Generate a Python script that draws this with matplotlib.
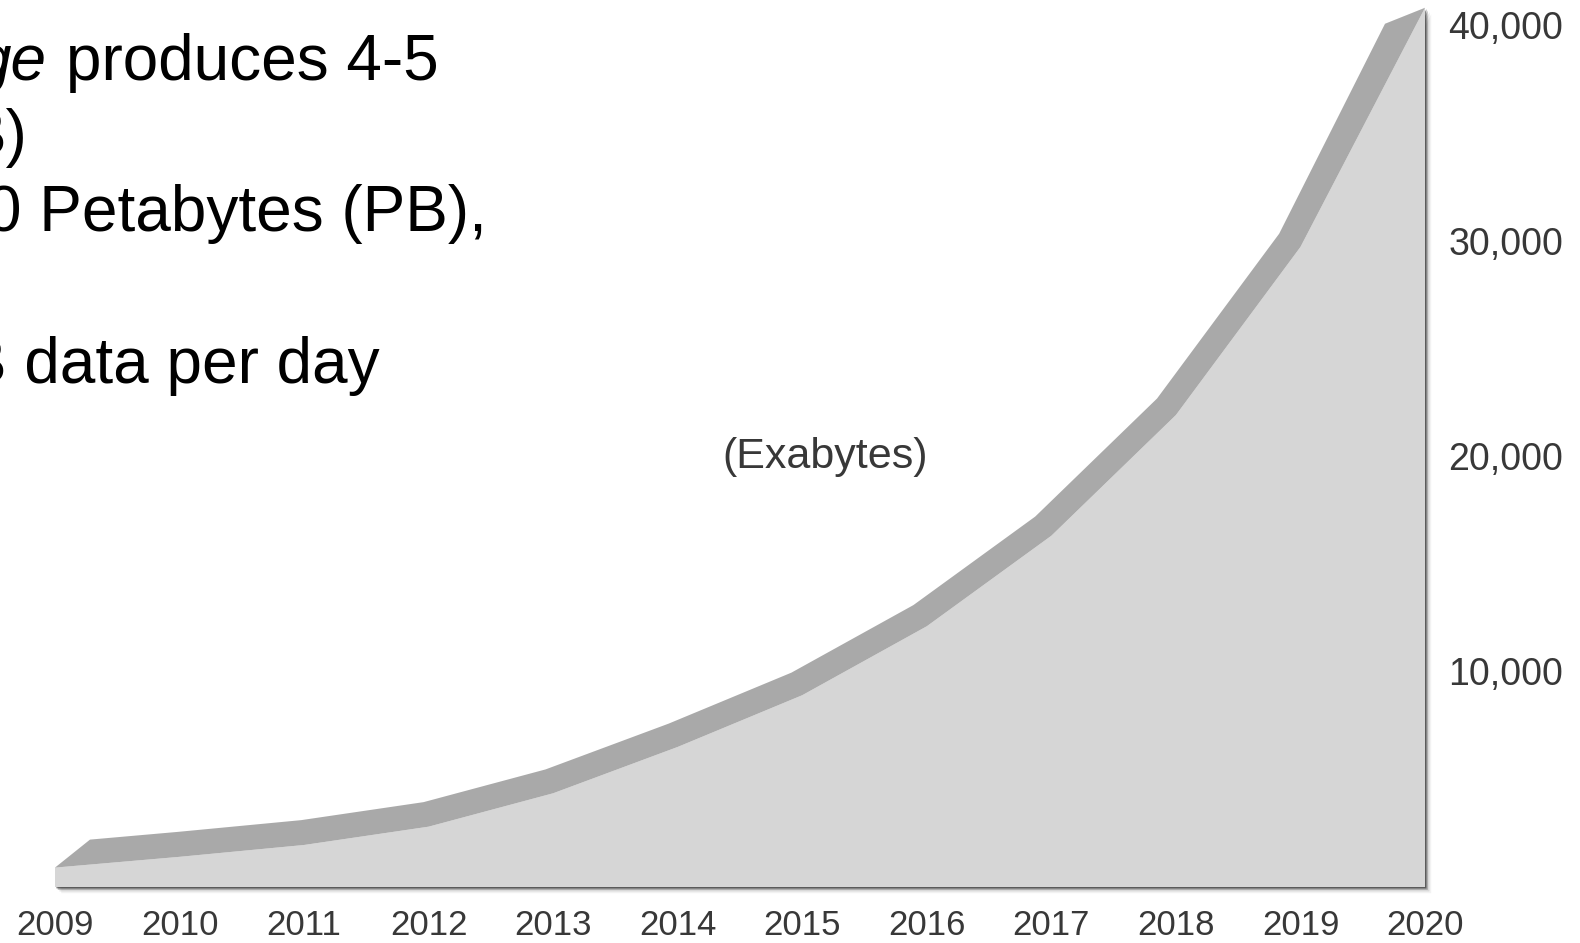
import numpy as np
import matplotlib
matplotlib.use('Agg')
import matplotlib.pyplot as plt
from matplotlib.patches import Polygon
from matplotlib.transforms import IdentityTransform
from matplotlib import patheffects as pe

# data: estimated size of the digital universe
years = [2009, 2010, 2011, 2012, 2013, 2014, 2015, 2016, 2017, 2018, 2019, 2020]
exabytes = [900, 1400, 1950, 2800, 4350, 6500, 8900, 12100, 16300, 21900, 29700, 40800]
y_ticks = [10000, 20000, 30000, 40000]
y_tick_labels = ['10,000', '20,000', '30,000', '40,000']
unit_label = '(Exabytes)'

narrow = ['Liberation Sans Narrow', 'Liberation Sans', 'DejaVu Sans']
label_color = '#383838'

W, H = 1580, 943
fig = plt.figure(figsize=(W / 100, H / 100), dpi=100)
fig.patch.set_facecolor('white')

# plot area in pixels (x of 2009 / 2020, y of 0 / 40,000)
left_px, right_px, zero_px, top_px = 55, 1425, 887, 25
ax = fig.add_axes([left_px / W, (H - zero_px) / H,
                   (right_px - left_px) / W, (zero_px - top_px) / H])
ax.set_xlim(years[0], years[-1])
ax.set_ylim(0, 40000)
ax.patch.set_alpha(0)
for s in ax.spines.values():
    s.set_visible(False)

# front face of the area with a soft drop shadow
verts = [(years[0], 0)] + list(zip(years, exabytes)) + [(years[-1], 0)]
face = Polygon(verts, closed=True, fc='#d6d6d6', ec='none', zorder=2, clip_on=False)
face.set_path_effects([
    pe.SimplePatchShadow(offset=(4.5, -4.5), shadow_rgbFace='#000000', alpha=0.05),
    pe.SimplePatchShadow(offset=(3.2, -3.2), shadow_rgbFace='#000000', alpha=0.10),
    pe.SimplePatchShadow(offset=(2.0, -2.0), shadow_rgbFace='#222222', alpha=0.30),
    pe.SimplePatchShadow(offset=(1.0, -1.0), shadow_rgbFace='#222222', alpha=0.55),
    pe.Normal(),
])
ax.add_patch(face)

# darker top band: the front edge pushed out along its normal (in pixels)
band_px = 25
pts = ax.transData.transform(np.column_stack([years, exabytes]))
d = np.diff(pts, axis=0)
d = d / np.linalg.norm(d, axis=1)[:, None]
n_seg = np.column_stack([-d[:, 1], d[:, 0]])
n_v = np.zeros_like(pts)
n_v[0] = n_seg[0]
n_v[-1] = n_seg[-1]
for i in range(1, len(pts) - 1):
    m = n_seg[i - 1] + n_seg[i]
    m = m / np.linalg.norm(m)
    n_v[i] = m / np.dot(m, n_seg[i])
back = pts + band_px * n_v
back[0] = pts[0] + [35, 28]     # bevel at the start
back[-1] = pts[-1] + [-40, -16]  # bevel at the peak
band = Polygon(np.vstack([pts, back[::-1]]), closed=True, fc='#a9a9a9', ec='none',
               transform=IdentityTransform(), zorder=3, clip_on=False)
ax.add_patch(band)

# axes labels
ax.set_xticks(years)
ax.set_xticklabels([str(y) for y in years])
ax.yaxis.tick_right()
ax.set_yticks(y_ticks)
ax.set_yticklabels(y_tick_labels)
ax.tick_params(axis='x', length=0, pad=16, labelsize=25, labelcolor=label_color)
ax.tick_params(axis='y', length=0, pad=17, labelsize=27, labelcolor=label_color)
for lab in ax.get_xticklabels() + ax.get_yticklabels():
    lab.set_fontfamily(narrow)

ax.text(0.562, 0.499, unit_label, transform=ax.transAxes, ha='center', va='center',
        fontsize=31, color=label_color, family=narrow, zorder=5)


# slide text on the left, cut by the frame
def px_text(x, baseline, s, **kw):
    fig.text(x, H - baseline, s, transform=IdentityTransform(), ha='left', va='baseline',
             fontsize=46, family=['Liberation Sans', 'DejaVu Sans'], color='black', **kw)


px_text(-24, 80, 'ge', style='italic')
px_text(66, 80, 'produces 4-5')
px_text(-36, 155, 'B)')
px_text(-14, 231, '0 Petabytes (PB),')
px_text(-36, 383, 'B data per day')

fig.savefig('out.png', dpi=100, facecolor='white')
